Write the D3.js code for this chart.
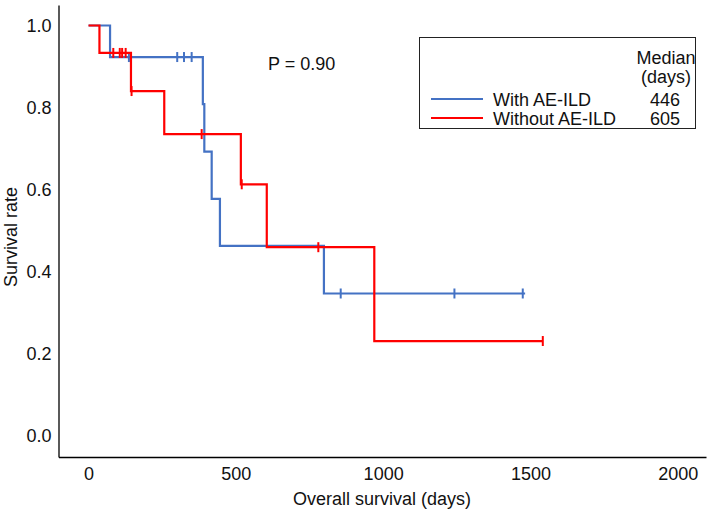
<!DOCTYPE html>
<html>
<head>
<meta charset="utf-8">
<script src="https://cdn.jsdelivr.net/npm/d3@7"></script>
<style>
  html, body { margin: 0; padding: 0; background: #fff; }
  svg { display: block; font-family: "Liberation Sans", Arial, sans-serif; }
</style>
</head>
<body>
<svg id="chart" width="709" height="514"></svg>
<script>
// ---- data ----
const xTicks = [0, 500, 1000, 1500, 2000];
const yTicks = [0.0, 0.2, 0.4, 0.6, 0.8, 1.0];

const seriesNames = ["With AE-ILD", "Without AE-ILD"];
const seriesMedians = ["446", "605"];
const seriesColors = ["#4472C4", "#FF0000"];

const withTimes = [0, 73, 388, 393, 418, 446, 799, 1482];
const withSurv  = [1.0, 0.923, 0.808, 0.692, 0.577, 0.462, 0.346, 0.346];
const withCensor = [137, 301, 324, 350, 856, 1242, 1474];

const withoutTimes = [0, 37, 144, 257, 517, 605, 970, 1542];
const withoutSurv  = [1.0, 0.933, 0.840, 0.735, 0.6125, 0.459, 0.230, 0.230];
const withoutCensor = [84, 106, 114, 126, 146, 384, 520, 780, 1542];

const pText = "P = 0.90";

// ---- layout ----
const svg = d3.select("#chart");
const x = d3.scaleLinear().domain([-102, 2096]).range([58.5, 706]);
const y = d3.scaleLinear().domain([-0.053, 1.05]).range([457, 5]);

const font = 18;

// axes
const xAxis = svg.append("g")
  .attr("transform", `translate(0,${y(-0.053)})`)
  .call(d3.axisBottom(x).tickValues(xTicks).tickSize(0).tickPadding(10).tickFormat(d3.format("d")));
const yAxis = svg.append("g")
  .attr("transform", `translate(${x(-102)},0)`)
  .call(d3.axisLeft(y).tickValues(yTicks).tickSize(0).tickPadding(7).tickFormat(d3.format(".1f")));

[xAxis, yAxis].forEach(g => {
  g.select(".domain").attr("stroke", "#000").attr("stroke-width", 1.3);
  g.selectAll("text").attr("font-size", font).attr("fill", "#111")
    .attr("font-family", "Liberation Sans, Arial, sans-serif");
});

// axis titles
svg.append("text")
  .attr("x", 382).attr("y", 505)
  .attr("text-anchor", "middle").attr("font-size", font).attr("fill", "#111")
  .text("Overall survival (days)");
svg.append("text")
  .attr("transform", "translate(17,237) rotate(-90)")
  .attr("text-anchor", "middle").attr("font-size", font).attr("fill", "#111")
  .text("Survival rate");

// curves
const line = d3.line().x(d => x(d[0])).y(d => y(d[1])).curve(d3.curveStepAfter);

function survAt(times, surv, t) {
  let s = surv[0];
  for (let i = 0; i < times.length; i++) if (times[i] <= t) s = surv[i];
  return s;
}

function drawSeries(times, surv, censor, color) {
  const pts = times.map((t, i) => [t, surv[i]]);
  svg.append("path").datum(pts)
    .attr("d", line).attr("fill", "none")
    .attr("stroke", color).attr("stroke-width", 2.2);
  svg.append("g").selectAll("line").data(censor).join("line")
    .attr("x1", d => x(d)).attr("x2", d => x(d))
    .attr("y1", d => y(survAt(times, surv, d)) - 5)
    .attr("y2", d => y(survAt(times, surv, d)) + 5)
    .attr("stroke", color).attr("stroke-width", 2);
}

drawSeries(withTimes, withSurv, withCensor, seriesColors[0]);
drawSeries(withoutTimes, withoutSurv, withoutCensor, seriesColors[1]);

// P value
svg.append("text").attr("x", 268).attr("y", 70)
  .attr("font-size", font).attr("fill", "#111").text(pText);

// legend
const lg = svg.append("g");
lg.append("rect").attr("x", 419.5).attr("y", 37.5).attr("width", 276).attr("height", 91)
  .attr("fill", "#fff").attr("stroke", "#222").attr("stroke-width", 1);
lg.append("text").attr("x", 666).attr("y", 64).attr("text-anchor", "middle")
  .attr("font-size", font).attr("fill", "#111").text("Median");
lg.append("text").attr("x", 666).attr("y", 83).attr("text-anchor", "middle")
  .attr("font-size", font).attr("fill", "#111").text("(days)");
seriesNames.forEach((name, i) => {
  const cy = 99 + i * 19;
  lg.append("line").attr("x1", 431).attr("x2", 483).attr("y1", cy).attr("y2", cy)
    .attr("stroke", seriesColors[i]).attr("stroke-width", 2);
  lg.append("text").attr("x", 493).attr("y", cy + 6.5)
    .attr("font-size", font).attr("fill", "#111").text(name);
  lg.append("text").attr("x", 665).attr("y", cy + 6.5).attr("text-anchor", "middle")
    .attr("font-size", font).attr("fill", "#111").text(seriesMedians[i]);
});
</script>
</body>
</html>
